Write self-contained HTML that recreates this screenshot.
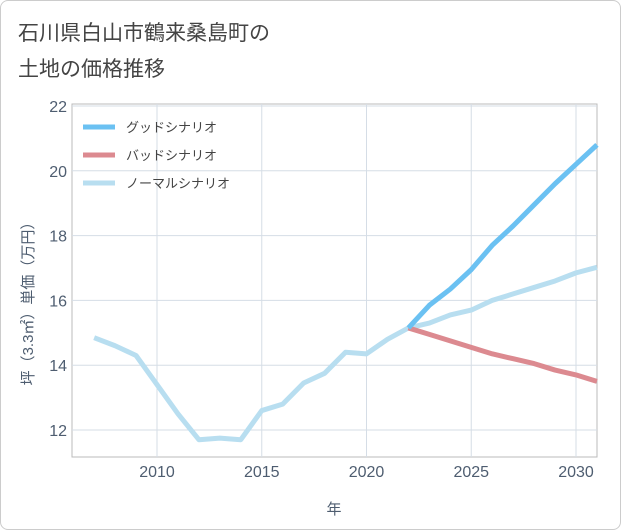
<!DOCTYPE html>
<html><head><meta charset="utf-8"><style>
body{margin:0;background:#fff;}
.card{position:absolute;left:0;top:0;width:619px;height:528px;border:1px solid #ccc;border-radius:8px;background:#fff;}
</style></head><body>
<div class="card"></div>
<svg id="c" width="621" height="530" style="position:absolute;left:0;top:0" font-family="'Liberation Sans','Noto Sans CJK JP',sans-serif">
<text x="18" y="40" font-size="21" fill="#444">石川県白山市鶴来桑島町の</text>
<text x="18" y="76" font-size="21" fill="#444">土地の価格推移</text>
<g id="grid"></g><g id="series"></g>
<text x="334" y="514" font-size="15" fill="#4e5d70" text-anchor="middle">年</text>
<text transform="translate(33,300) rotate(-90)" font-size="15" fill="#4e5d70" text-anchor="middle">坪（3.3㎡）単価（万円）</text>
</svg>
<script>
const years=[2007,2008,2009,2010,2011,2012,2013,2014,2015,2016,2017,2018,2019,2020,2021,2022,2023,2024,2025,2026,2027,2028,2029,2030,2031];
const normal=[14.85,14.6,14.3,13.4,12.5,11.7,11.75,11.7,12.6,12.8,13.45,13.75,14.4,14.35,14.8,15.15,15.3,15.55,15.7,16.0,16.2,16.4,16.6,16.85,17.02];
const fYears=[2022,2023,2024,2025,2026,2027,2028,2029,2030,2031];
const good=[15.15,15.85,16.35,16.95,17.7,18.3,18.95,19.6,20.2,20.8];
const bad=[15.15,14.95,14.75,14.55,14.35,14.2,14.05,13.85,13.7,13.5];
const xTicks=[2010,2015,2020,2025,2030];
const yTicks=[12,14,16,18,20,22];
const L=72,R=597,T=104,B=457;
const x=v=>157+(v-2010)*20.95;
const y=v=>430-(v-12)*32.4;
const NS='http://www.w3.org/2000/svg';
const g=document.getElementById('grid'),s=document.getElementById('series');
function mk(p,t,a){const e=document.createElementNS(NS,t);for(const k in a)e.setAttribute(k,a[k]);p.appendChild(e);return e;}
const bg=mk(g,'rect',{x:L,y:T,width:R-L,height:B-T,fill:'#fff',stroke:'#bbb'});


xTicks.forEach(v=>{const l=mk(g,'line',{x1:x(v),x2:x(v),y1:T,y2:B,stroke:'#d5dde6'});


const t=mk(g,'text',{x:x(v),y:B+20,'font-size':16,fill:'#4e5d70','text-anchor':'middle'});t.textContent=v;

});
yTicks.forEach(v=>{const l=mk(g,'line',{x1:L,x2:R,y1:y(v),y2:y(v),stroke:'#d5dde6'});


const t=mk(g,'text',{x:L-5,y:y(v)+6,'font-size':16,fill:'#4e5d70','text-anchor':'end'});t.textContent=v;

});
function line(xs,vs,c,n){const p=mk(s,'polyline',{points:xs.map((d,i)=>x(d)+','+y(vs[i])).join(' '),fill:'none',stroke:c,'stroke-width':5,'stroke-linejoin':'round'});

}
line(years,normal,'#b8def0','normal-scenario-line');
line(fYears,bad,'#dc8a90','bad-scenario-line');
line(fYears,good,'#6bc1f2','good-scenario-line');
[['グッドシナリオ','#6bc1f2'],['バッドシナリオ','#dc8a90'],['ノーマルシナリオ','#b8def0']].forEach((e,i)=>{const yy=127+i*28;
const l=mk(s,'line',{x1:83,x2:115,y1:yy,y2:yy,stroke:e[1],'stroke-width':5});


const t=mk(s,'text',{x:126,y:yy+5,'font-size':13,fill:'#444'});t.textContent=e[0];

});
</script>
</body></html>
